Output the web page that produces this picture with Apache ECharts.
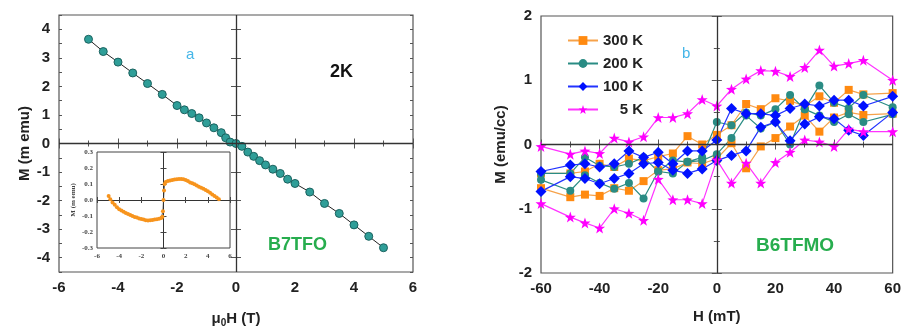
<!DOCTYPE html>
<html>
<head>
<meta charset="utf-8">
<script src="https://cdn.jsdelivr.net/npm/echarts@6/dist/echarts.min.js"></script>
<style>
  html, body { margin: 0; padding: 0; background: #fff; }
  #chart { width: 904px; height: 333px; }
</style>
</head>
<body>
<div id="chart"></div>
<script>
// ---- Panel a: B7TFO at 2 K, M vs mu0H ----
const fieldT = [-5, -4.5, -4, -3.5, -3, -2.5, -2, -1.75, -1.5, -1.25, -1, -0.75, -0.5, -0.35, -0.2, 0,
  0.2, 0.4, 0.6, 0.8, 1.0, 1.25, 1.5, 1.75, 2.0, 2.5, 3, 3.5, 4, 4.5, 5];
const momentB7 = [3.65, 3.22, 2.85, 2.47, 2.1, 1.72, 1.33, 1.18, 1.05, 0.9, 0.72, 0.55, 0.38, 0.2, 0.05, 0.0,
  -0.1, -0.3, -0.45, -0.6, -0.75, -0.9, -1.05, -1.25, -1.4, -1.7, -2.1, -2.45, -2.85, -3.25, -3.65];
const momentTicks = [-4, -3, -2, -1, 0, 1, 2, 3, 4];

// inset: residual after linear background
const insetField = [-4.95, -4.8, -4.6, -4.4, -4.2, -4.0, -3.8, -3.6, -3.4, -3.2, -3.0, -2.8, -2.6, -2.4, -2.2,
  -2.0, -1.8, -1.6, -1.4, -1.2, -1.0, -0.8, -0.6, -0.4, -0.2, -0.1, -0.05, 0, 0.05, 0.1, 0.2, 0.4, 0.6, 0.8,
  1.0, 1.2, 1.4, 1.6, 1.8, 2.0, 2.2, 2.4, 2.6, 2.8, 3.0, 3.2, 3.4, 3.6, 3.8, 4.0, 4.2, 4.4, 4.6, 4.8, 5.0];
const insetMoment = [0.025, 0.005, -0.015, -0.03, -0.045, -0.058, -0.066, -0.074, -0.082, -0.088, -0.094, -0.1,
  -0.106, -0.11, -0.115, -0.118, -0.122, -0.126, -0.128, -0.127, -0.125, -0.122, -0.12, -0.117, -0.112, -0.105,
  -0.07, 0.0, 0.06, 0.1, 0.112, 0.118, 0.122, 0.125, 0.128, 0.13, 0.132, 0.132, 0.13, 0.125, 0.118, 0.11,
  0.105, 0.098, 0.09, 0.083, 0.076, 0.07, 0.062, 0.055, 0.045, 0.035, 0.025, 0.015, 0.005];

// ---- Panel b: B6TFMO hysteresis loops, M vs H ----
const fieldMT = [-60, -50, -45, -40, -35, -30, -25, -20, -15, -10, -5, 0, 5, 10, 15, 20, 25, 30, 35, 40, 45, 50, 60];
const temps = ['300 K', '200 K', '100 K', '5 K'];
// descending-field branch (values listed in ascending field order)
const m300Desc = [-0.45, -0.45, -0.42, -0.3, -0.35, -0.22, -0.25, -0.19, -0.14, 0.13, 0.0, 0.15, 0.3, 0.63, 0.55, 0.72, 0.68, 0.6, 0.75, 0.65, 0.85, 0.78, 0.8];
const m300Asc  = [-0.68, -0.82, -0.78, -0.8, -0.68, -0.72, -0.57, -0.4, -0.38, -0.28, -0.3, -0.22, 0.02, -0.37, -0.03, 0.1, 0.28, 0.45, 0.2, 0.42, 0.5, 0.46, 0.48];
const m200Desc = [-0.45, -0.45, -0.2, -0.33, -0.35, -0.3, -0.2, -0.42, -0.25, -0.27, -0.2, 0.35, 0.3, 0.5, 0.45, 0.55, 0.77, 0.55, 0.92, 0.65, 0.57, 0.77, 0.58];
const m200Asc  = [-0.55, -0.72, -0.48, -0.6, -0.69, -0.6, -0.84, -0.42, -0.45, -0.27, -0.25, -0.15, 0.1, 0.45, 0.25, 0.35, 0.0, 0.55, 0.45, 0.35, 0.47, 0.35, 0.47];
const m100Desc = [-0.42, -0.32, -0.3, -0.35, -0.3, -0.1, -0.2, -0.12, -0.3, -0.1, -0.1, 0.07, 0.56, 0.48, 0.48, 0.45, 0.56, 0.63, 0.6, 0.69, 0.69, 0.6, 0.75];
const m100Asc  = [-0.73, -0.5, -0.53, -0.61, -0.53, -0.45, -0.3, -0.28, -0.4, -0.45, -0.38, -0.25, -0.17, -0.1, 0.27, 0.35, 0.06, 0.32, 0.43, 0.4, 0.22, 0.14, 0.5];
const m5Desc   = [-0.03, -0.15, -0.1, -0.14, 0.1, 0.04, 0.12, 0.42, 0.42, 0.48, 0.7, 0.6, 0.86, 1.02, 1.15, 1.14, 1.06, 1.2, 1.47, 1.22, 1.26, 1.31, 1.0];
const m5Asc    = [-0.92, -1.13, -1.22, -1.3, -1.0, -1.07, -1.18, -0.54, -0.86, -0.86, -0.92, -0.24, -0.6, -0.29, -0.6, -0.28, -0.12, 0.07, 0.04, -0.03, 0.24, 0.2, 0.2];

// Sweep from +60 down to -60, break, then -60 back up to +60
function loop(desc, asc) {
  const out = [];
  for (let i = fieldMT.length - 1; i >= 0; i--) out.push([fieldMT[i], desc[i]]);
  out.push([fieldMT[0], '-']);
  for (let i = 0; i < fieldMT.length; i++) out.push([fieldMT[i], asc[i]]);
  return out;
}
function pairs(xs, ys) { return xs.map((x, i) => [x, ys[i]]); }

const STAR = 'path://M0,-10L2.35,-3.24L9.51,-3.09L3.8,1.24L5.88,8.09L0,4L-5.88,8.09L-3.8,1.24L-9.51,-3.09L-2.35,-3.24Z';
const FONT = 'Liberation Sans';
const tickLbl = { fontFamily: FONT, fontSize: 15, fontWeight: 'bold', color: '#222' };
const insetLbl = { fontFamily: 'Liberation Serif', fontSize: 7, fontWeight: 'bold', color: '#444' };
const tickLine = { color: '#555' };

const zeroLines = (w) => ({
  silent: true, symbol: 'none', label: { show: false },
  lineStyle: { color: '#333', width: w, type: 'solid' },
  data: [{ xAxis: 0 }, { yAxis: 0 }]
});

function mainX(grid, min, max, interval, name, nameOpts, top) {
  return {
    type: 'value', gridIndex: grid, min: min, max: max, interval: interval,
    position: top ? 'top' : 'bottom',
    axisLine: { show: false },
    axisTick: { inside: true, length: 5, lineStyle: tickLine },
    minorTick: { show: true, splitNumber: 2, length: 3, lineStyle: tickLine },
    splitLine: { show: false },
    axisLabel: top ? { show: false } : Object.assign({ margin: 8 }, tickLbl),
    name: top ? '' : name,
    ...(top ? {} : nameOpts)
  };
}
function mainY(grid, min, max, interval, name, nameOpts, right) {
  return {
    type: 'value', gridIndex: grid, min: min, max: max, interval: interval,
    position: right ? 'right' : 'left',
    axisLine: { show: false },
    axisTick: { inside: true, length: 5, lineStyle: tickLine },
    minorTick: { show: true, splitNumber: 2, length: 3, lineStyle: tickLine },
    splitLine: { show: false },
    axisLabel: right ? { show: false } : Object.assign({ margin: 9 }, tickLbl),
    name: right ? '' : name,
    ...(right ? {} : nameOpts)
  };
}
// Panel a moment axis spans ±4.5 with labels on whole numbers
function momentY(right, withName) {
  return {
    type: 'value', gridIndex: 0, min: -4.5, max: 4.5,
    position: right ? 'right' : 'left',
    axisLine: { show: false },
    axisTick: { inside: true, length: 5, lineStyle: tickLine, customValues: momentTicks },
    splitLine: { show: false },
    axisLabel: withName ? Object.assign({ margin: 9, customValues: momentTicks }, tickLbl) : { show: false },
    name: withName ? 'M (m emu)' : '',
    nameLocation: 'middle', nameGap: 27, nameRotate: 90,
    nameTextStyle: { fontFamily: FONT, fontSize: 15, fontWeight: 'bold', color: '#222' }
  };
}
// half-unit minor ticks for the same axis
function momentMinor(right) {
  return {
    type: 'value', gridIndex: 0, min: -4.5, max: 4.5, interval: 0.5,
    position: right ? 'right' : 'left',
    axisLine: { show: false },
    axisTick: { inside: true, length: 3, lineStyle: tickLine },
    splitLine: { show: false }, axisLabel: { show: false }
  };
}

const chart = echarts.init(document.getElementById('chart'), null, { renderer: 'canvas' });

const option = {
  backgroundColor: '#fff',
  animation: false,
  grid: [
    { left: 59, top: 15, width: 354, height: 259, show: true, borderColor: '#555', borderWidth: 1.2, backgroundColor: 'transparent' },
    { left: 97, top: 152, width: 133, height: 96, show: true, borderColor: '#444', borderWidth: 1, backgroundColor: '#fff', z: 5 },
    { left: 541, top: 16, width: 352, height: 257, show: true, borderColor: '#555', borderWidth: 1.2, backgroundColor: 'transparent' }
  ],
  xAxis: [
    mainX(0, -6, 6, 2, '{mu|μ}{sub|0}{h|H (T)}', {
      nameLocation: 'middle', nameGap: 38,
      nameTextStyle: {
        rich: {
          mu: { fontFamily: FONT, fontSize: 15, fontWeight: 'bold', color: '#222' },
          sub: { fontFamily: FONT, fontSize: 10, fontWeight: 'bold', color: '#222', verticalAlign: 'bottom', padding: [8, 0, 0, 0] },
          h: { fontFamily: FONT, fontSize: 15, fontWeight: 'bold', color: '#222' }
        }
      }
    }, false),
    mainX(0, -6, 6, 2, '', {}, true),
    {
      type: 'value', gridIndex: 1, min: -6, max: 6, interval: 2, position: 'bottom',
      axisLine: { show: false },
      axisTick: { inside: true, length: 3, lineStyle: { color: '#444' } },
      splitLine: { show: false },
      axisLabel: Object.assign({ margin: 5 }, insetLbl), z: 6
    },
    {
      type: 'value', gridIndex: 1, min: -6, max: 6, interval: 2, position: 'top',
      axisLine: { show: false },
      axisTick: { inside: true, length: 3, lineStyle: { color: '#444' } },
      splitLine: { show: false }, axisLabel: { show: false }, z: 6
    },
    mainX(2, -60, 60, 20, 'H (mT)', {
      nameLocation: 'middle', nameGap: 36,
      nameTextStyle: { fontFamily: FONT, fontSize: 15, fontWeight: 'bold', color: '#222' }
    }, false),
    mainX(2, -60, 60, 20, '', {}, true)
  ],
  yAxis: [
    momentY(false, true),
    momentY(true, false),
    {
      type: 'value', gridIndex: 1, min: -0.3, max: 0.3, interval: 0.1, position: 'left',
      axisLine: { show: false },
      axisTick: { inside: true, length: 3, lineStyle: { color: '#444' } },
      splitLine: { show: false },
      axisLabel: Object.assign({ margin: 4, formatter: v => v.toFixed(1) }, insetLbl),
      name: 'M (m emu)', nameLocation: 'middle', nameGap: 20, nameRotate: 90,
      nameTextStyle: { fontFamily: 'Liberation Serif', fontSize: 7, fontWeight: 'bold', color: '#444' }, z: 6
    },
    {
      type: 'value', gridIndex: 1, min: -0.3, max: 0.3, interval: 0.1, position: 'right',
      axisLine: { show: false },
      axisTick: { inside: true, length: 3, lineStyle: { color: '#444' } },
      splitLine: { show: false }, axisLabel: { show: false }, z: 6
    },
    mainY(2, -2, 2, 1, 'M (emu/cc)', {
      nameLocation: 'middle', nameGap: 33, nameRotate: 90,
      nameTextStyle: { fontFamily: FONT, fontSize: 15, fontWeight: 'bold', color: '#222' }
    }, false),
    mainY(2, -2, 2, 1, '', {}, true),
    momentMinor(false),
    momentMinor(true)
  ],
  legend: {
    orient: 'vertical', left: 562, top: 28, itemWidth: 30, itemHeight: 11, itemGap: 8,
    data: temps,
    formatter: n => n === '5 K' ? '    5 K' : n,
    textStyle: { fontFamily: FONT, fontSize: 15, fontWeight: 'bold', color: '#222' }
  },
  series: [
    {
      type: 'line', xAxisIndex: 0, yAxisIndex: 0, data: pairs(fieldT, momentB7),
      symbol: 'circle', symbolSize: 8,
      lineStyle: { color: '#222', width: 1 },
      itemStyle: { color: '#2f9e98', borderColor: '#1b625f', borderWidth: 1 },
      markLine: zeroLines(1.3), z: 3
    },
    {
      type: 'line', xAxisIndex: 2, yAxisIndex: 2, data: pairs(insetField, insetMoment),
      symbol: 'circle', symbolSize: 4,
      lineStyle: { color: '#333', width: 0.8 },
      itemStyle: { color: '#f7941d' },
      markLine: zeroLines(1), z: 7
    },
    {
      name: '300 K', type: 'line', xAxisIndex: 4, yAxisIndex: 4, data: loop(m300Desc, m300Asc),
      symbol: 'rect', symbolSize: 8, connectNulls: false,
      lineStyle: { color: '#f6a24a', width: 1.2 },
      itemStyle: { color: '#ff8a10' },
      markLine: zeroLines(1.3)
    },
    {
      name: '200 K', type: 'line', xAxisIndex: 4, yAxisIndex: 4, data: loop(m200Desc, m200Asc),
      symbol: 'circle', symbolSize: 8, connectNulls: false,
      lineStyle: { color: '#2a8c84', width: 1.2 },
      itemStyle: { color: '#2a8c84' }
    },
    {
      name: '100 K', type: 'line', xAxisIndex: 4, yAxisIndex: 4, data: loop(m100Desc, m100Asc),
      symbol: 'diamond', symbolSize: 11, connectNulls: false,
      lineStyle: { color: '#2233ff', width: 1.2 },
      itemStyle: { color: '#0010ff' }
    },
    {
      name: '5 K', type: 'line', xAxisIndex: 4, yAxisIndex: 4, data: loop(m5Desc, m5Asc),
      symbol: STAR, symbolSize: 11, connectNulls: false,
      lineStyle: { color: '#ff33ff', width: 1.2 },
      itemStyle: { color: '#ff00ff' }
    }
  ],
  graphic: [
    { type: 'text', left: 186, top: 47, style: { text: 'a', font: '15px "Liberation Sans"', fill: '#45b6e8' } },
    { type: 'text', left: 330, top: 63, style: { text: '2K', font: 'bold 18px "Liberation Sans"', fill: '#111' } },
    { type: 'text', left: 268, top: 236, style: { text: 'B7TFO', font: 'bold 18px "Liberation Sans"', fill: '#27ad4e' } },
    { type: 'text', left: 756, top: 236, style: { text: 'B6TFMO', font: 'bold 19px "Liberation Sans"', fill: '#27ad4e' } },
    { type: 'text', left: 682, top: 46, style: { text: 'b', font: '15px "Liberation Sans"', fill: '#45b6e8' } }
  ]
};

chart.setOption(option);
</script>
</body>
</html>
